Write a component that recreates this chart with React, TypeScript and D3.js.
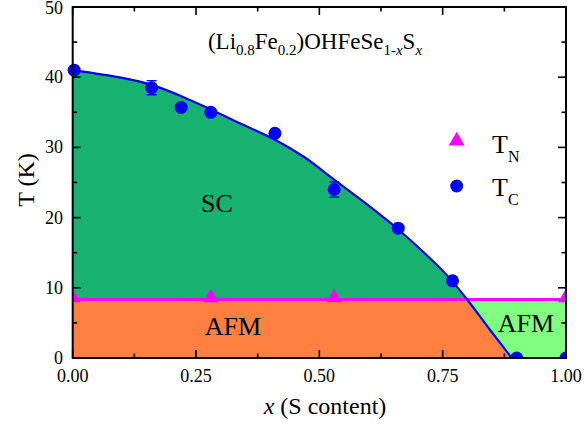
import React from "react";
import * as d3 from "d3";

const tcX = [0.003, 0.16, 0.22, 0.28, 0.41, 0.53, 0.66, 0.77, 0.9, 1.0];
const tcY = [41, 38.5, 35.7, 35.0, 32.0, 24.0, 18.5, 11.0, 0, 0];
const tcErr = [0, 1.0, 0, 0, 0, 1.1, 0, 0, 0, 0];

const tnX = [0, 0.28, 0.53, 1.0];
const tnY = [8.6, 8.6, 8.6, 8.6];
const tnLevel = 8.35;

const fitX = [0, 0.1, 0.16, 0.22, 0.28, 0.34, 0.41, 0.47, 0.53, 0.6, 0.66, 0.72, 0.76, 0.8, 0.845, 0.89];
const fitY = [41, 39.9, 38.9, 37.3, 35.4, 33.4, 31.1, 28.6, 25.4, 21.7, 18.3, 14.5, 11.7, 8.3, 4.1, 0];

const xTicks = [0, 0.25, 0.5, 0.75, 1.0];
const xTickLabels = ["0.00", "0.25", "0.50", "0.75", "1.00"];
const xMinor = [0.125, 0.375, 0.625, 0.875];
const yTicks = [0, 10, 20, 30, 40, 50];
const yMinor = [5, 15, 25, 35, 45];

const FONT = "Liberation Serif, Tinos, Times New Roman, DejaVu Serif, serif";

export default function App() {
  const W = 584, H = 424;
  const L = 72.7, R = 566, T = 7, B = 358;
  const x = d3.scaleLinear().domain([0, 1]).range([L, R]);
  const y = d3.scaleLinear().domain([0, 50]).range([B, T]);

  const fitPts: [number, number][] = fitX.map((v, i) => [v, fitY[i]]);
  const line = d3.line<[number, number]>().x(d => x(d[0])).y(d => y(d[1])).curve(d3.curveCatmullRom);
  const area = d3.area<[number, number]>().x(d => x(d[0])).y0(y(0)).y1(d => y(d[1])).curve(d3.curveCatmullRom);
  const linePath = line(fitPts) || "";
  const areaPath = area(fitPts) || "";

  const tri = d3.symbol().type(d3.symbolTriangle).size(110)() || "";

  const major = 8, minor = 4.5;
  const txt = { fontFamily: FONT };

  return (
    <svg width={W} height={H} style={{ display: "block", position: "absolute", left: 0, top: 0, fontFamily: FONT }}>
      <defs>
        <clipPath id="scArea">
          <path d={areaPath} />
        </clipPath>
        <clipPath id="plotClip">
          <rect x={L} y={T} width={R - L} height={B - T} />
        </clipPath>
        <clipPath id="circClip">
          <rect x={L - 12} y={T} width={R - L + 12} height={B - T} />
        </clipPath>
      </defs>
      <rect width={W} height={H} fill="#fff" />
      <rect x={x(0)} y={y(tnLevel)} width={x(1) - x(0)} height={y(0) - y(tnLevel)} fill="#80FF80" />
      <path d={areaPath} fill="#17B26F" />
      <rect x={x(0)} y={y(tnLevel)} width={x(1) - x(0)} height={y(0) - y(tnLevel)} fill="#FF8040" clipPath="url(#scArea)" />
      <line x1={x(0)} x2={x(1)} y1={y(tnLevel)} y2={y(tnLevel)} stroke="#FF00FF" strokeWidth={3} />
      <path d={linePath} fill="none" stroke="#0000FF" strokeWidth={2.2} />

      <g clipPath="url(#plotClip)">
        {tnX.map((v, i) => (
          <path key={"tn" + i} d={tri} transform={`translate(${x(v)},${y(tnY[i])})`} fill="#FF00FF" />
        ))}
      </g>
      <g clipPath="url(#circClip)">
        {tcX.map((v, i) => (
          <g key={"tc" + i}>
            {tcErr[i] > 0 && (
              <g stroke="#0000FF" strokeWidth={1.3}>
                <line x1={x(v)} x2={x(v)} y1={y(tcY[i] - tcErr[i])} y2={y(tcY[i] + tcErr[i])} />
                <line x1={x(v) - 5} x2={x(v) + 5} y1={y(tcY[i] - tcErr[i])} y2={y(tcY[i] - tcErr[i])} />
                <line x1={x(v) - 5} x2={x(v) + 5} y1={y(tcY[i] + tcErr[i])} y2={y(tcY[i] + tcErr[i])} />
              </g>
            )}
            <circle cx={x(v)} cy={y(tcY[i])} r={6.5} fill="#0000FF" />
          </g>
        ))}
      </g>

      <rect x={L} y={T} width={R - L} height={B - T} fill="none" stroke="#000" strokeWidth={2} />
      <g stroke="#000" strokeWidth={1.6}>
        {xTicks.map((v, i) => (
          <g key={"xt" + i}>
            <line x1={x(v)} x2={x(v)} y1={B} y2={B - major} />
            <line x1={x(v)} x2={x(v)} y1={T} y2={T + major} />
          </g>
        ))}
        {xMinor.map((v, i) => (
          <g key={"xm" + i}>
            <line x1={x(v)} x2={x(v)} y1={B} y2={B - minor} />
            <line x1={x(v)} x2={x(v)} y1={T} y2={T + minor} />
          </g>
        ))}
        {yTicks.map((v, i) => (
          <g key={"yt" + i}>
            <line x1={L} x2={L + major} y1={y(v)} y2={y(v)} />
            <line x1={R} x2={R - major} y1={y(v)} y2={y(v)} />
          </g>
        ))}
        {yMinor.map((v, i) => (
          <g key={"ym" + i}>
            <line x1={L} x2={L + minor} y1={y(v)} y2={y(v)} />
            <line x1={R} x2={R - minor} y1={y(v)} y2={y(v)} />
          </g>
        ))}
      </g>
      {xTicks.map((v, i) => (
        <text key={"xl" + i} style={txt} x={x(v)} y={382} fontSize={18} textAnchor="middle" fill="#000">{xTickLabels[i]}</text>
      ))}
      {yTicks.map((v, i) => (
        <text key={"yl" + i} style={txt} x={63} y={Math.max(y(v) + 6, 14)} fontSize={18} textAnchor="end" fill="#000">{v}</text>
      ))}
      <text style={txt} x={325} y={414} fontSize={24} textAnchor="middle" fill="#000">
        <tspan fontStyle="italic">x</tspan> (S content)
      </text>
      <text style={txt} transform={`translate(34,180) rotate(-90)`} fontSize={24} textAnchor="middle" fill="#000">T (K)</text>

      <text style={txt} x={315} y={49} fontSize={23} textAnchor="middle" fill="#000">
        (Li<tspan fontSize={15} dy={6}>0.8</tspan><tspan dy={-6}>Fe</tspan><tspan fontSize={15} dy={6}>0.2</tspan><tspan dy={-6}>)OHFeSe</tspan><tspan fontSize={15} dy={6}>1-</tspan><tspan fontSize={15} fontStyle="italic">x</tspan><tspan dy={-6}>S</tspan><tspan fontSize={15} fontStyle="italic" dy={6}>x</tspan>
      </text>

      <text style={txt} x={217} y={212} fontSize={26} textAnchor="middle" fill="#000">SC</text>
      <text style={txt} x={233} y={335} fontSize={26} textAnchor="middle" fill="#000">AFM</text>
      <text style={txt} x={526} y={332} fontSize={26} textAnchor="middle" fill="#000">AFM</text>

      <path d={tri} transform={`translate(456.7,141)`} fill="#FF00FF" />
      <text style={txt} x={492} y={153} fontSize={26} fill="#000">T<tspan fontSize={16} dy={9}>N</tspan></text>
      <circle cx={456.7} cy={186} r={6.5} fill="#0000FF" />
      <text style={txt} x={492} y={196} fontSize={26} fill="#000">T<tspan fontSize={16} dy={9}>C</tspan></text>
    </svg>
  );
}
